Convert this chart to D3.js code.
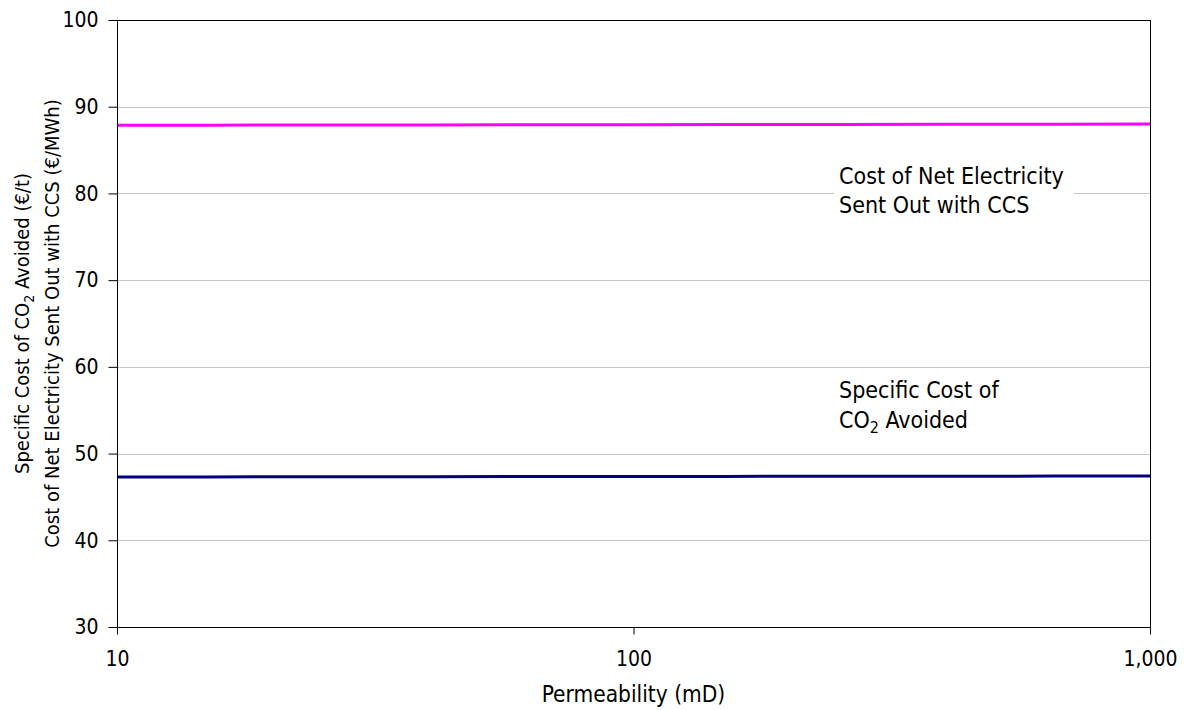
<!DOCTYPE html>
<html>
<head>
<meta charset="utf-8">
<script src="https://cdn.jsdelivr.net/npm/d3@7"></script>
<style>
  html, body { margin: 0; padding: 0; background: #fff; }
  svg { display: block; font-family: "DejaVu Sans Condensed", "DejaVu Sans", sans-serif; }
</style>
</head>
<body>
<svg id="chart" width="1188" height="710"></svg>
<script>
// ---- data ----
const permeability = [10, 15, 25, 40, 65, 100, 150, 250, 400, 650, 1000];
const costElectricity = [87.86, 87.87, 87.89, 87.90, 87.92, 87.93, 87.94, 87.96, 87.97, 87.98, 88.00];
const costAvoided = [47.30, 47.31, 47.33, 47.34, 47.35, 47.36, 47.37, 47.38, 47.39, 47.40, 47.41];
const yTicks = [30, 40, 50, 60, 70, 80, 90, 100];
const xTicks = [10, 100, 1000];
const seriesNames = ["Cost of Net Electricity Sent Out with CCS", "Specific Cost of CO2 Avoided"];

// ---- layout ----
const W = 1188, H = 710;
const m = { left: 117, right: 38, top: 20, bottom: 83 };
const iw = W - m.left - m.right, ih = H - m.top - m.bottom;
const TICK_FS = 21, TITLE_FS = 22.5, YTITLE_FS = 20, LABEL_FS = 23;

const svg = d3.select("#chart");
const g = svg.append("g").attr("transform", `translate(${m.left},${m.top})`);

const x = d3.scaleLog().domain([10, 1000]).range([0, iw]);
const y = d3.scaleLinear().domain([30, 100]).range([ih, 0]);

// gridlines
g.append("g").selectAll("line").data(yTicks.filter(d => d > 30 && d < 100)).join("line")
  .attr("x1", 0).attr("x2", iw)
  .attr("y1", d => Math.round(y(d)) + 0.5).attr("y2", d => Math.round(y(d)) + 0.5)
  .attr("stroke", "#c8c8c8").attr("stroke-width", 1);

// label background box for upper label
const lab1x = x(250), lab1y = y(81.09);
g.append("rect")
  .attr("x", lab1x - 5).attr("y", lab1y - 22)
  .attr("width", 240).attr("height", 58)
  .attr("fill", "#fff");

// lines
const line = d3.line().x((d, i) => x(permeability[i])).y(d => y(d));
g.append("path").datum(costElectricity).attr("d", line)
  .attr("fill", "none").attr("stroke", "#ff00ff").attr("stroke-width", 3);
g.append("path").datum(costAvoided).attr("d", line)
  .attr("fill", "none").attr("stroke", "#000080").attr("stroke-width", 3);

// frame
g.append("rect").attr("x", 0.5).attr("y", 0.5).attr("width", iw).attr("height", ih)
  .attr("fill", "none").attr("stroke", "#000").attr("stroke-width", 1);

// axes
const yAxis = d3.axisLeft(y).tickValues(yTicks).tickSize(9).tickPadding(10);
const yg = g.append("g").attr("transform", "translate(0.5,0)").call(yAxis);
yg.select(".domain").remove();
yg.selectAll("line").attr("stroke", "#000");

const xAxis = d3.axisBottom(x).tickValues(xTicks).tickFormat(d3.format(",")).tickSize(7).tickPadding(17);
const xg = g.append("g").attr("transform", `translate(0,${ih + 0.5})`).call(xAxis);
xg.select(".domain").remove();
xg.selectAll("line").attr("stroke", "#000");
svg.selectAll("g").attr("font-family", null).attr("font-size", null);
svg.selectAll(".tick text").attr("font-size", TICK_FS).attr("fill", "#000");

// x title
svg.append("text").attr("x", m.left + iw / 2).attr("y", 702)
  .attr("text-anchor", "middle").attr("font-size", TITLE_FS).text("Permeability (mD)");

// y title (two lines)
const yt = svg.append("text").attr("transform", `translate(29,${m.top + ih / 2}) rotate(-90)`)
  .attr("text-anchor", "middle").attr("font-size", YTITLE_FS);
yt.append("tspan").text("Specific Cost of CO");
yt.append("tspan").attr("font-size", 14).attr("dy", 5).text("2");
yt.append("tspan").attr("dy", -5).text(" Avoided (€/t)");
svg.append("text").attr("transform", `translate(59,${m.top + ih / 2}) rotate(-90)`)
  .attr("text-anchor", "middle").attr("font-size", YTITLE_FS)
  .text("Cost of Net Electricity Sent Out with CCS (€/MWh)");

// series annotations
const a1 = g.append("text").attr("font-size", LABEL_FS).attr("x", lab1x).attr("y", lab1y);
a1.append("tspan").attr("x", lab1x).text("Cost of Net Electricity");
a1.append("tspan").attr("x", lab1x).attr("dy", 29).text("Sent Out with CCS");

const lab2y = y(56.41);
const a2 = g.append("text").attr("font-size", LABEL_FS).attr("x", lab1x).attr("y", lab2y);
a2.append("tspan").attr("x", lab1x).text("Specific Cost of");
a2.append("tspan").attr("x", lab1x).attr("dy", 30).text("CO");
a2.append("tspan").attr("font-size", 16).attr("dy", 5).text("2");
a2.append("tspan").attr("dy", -5).text(" Avoided");
</script>
</body>
</html>
